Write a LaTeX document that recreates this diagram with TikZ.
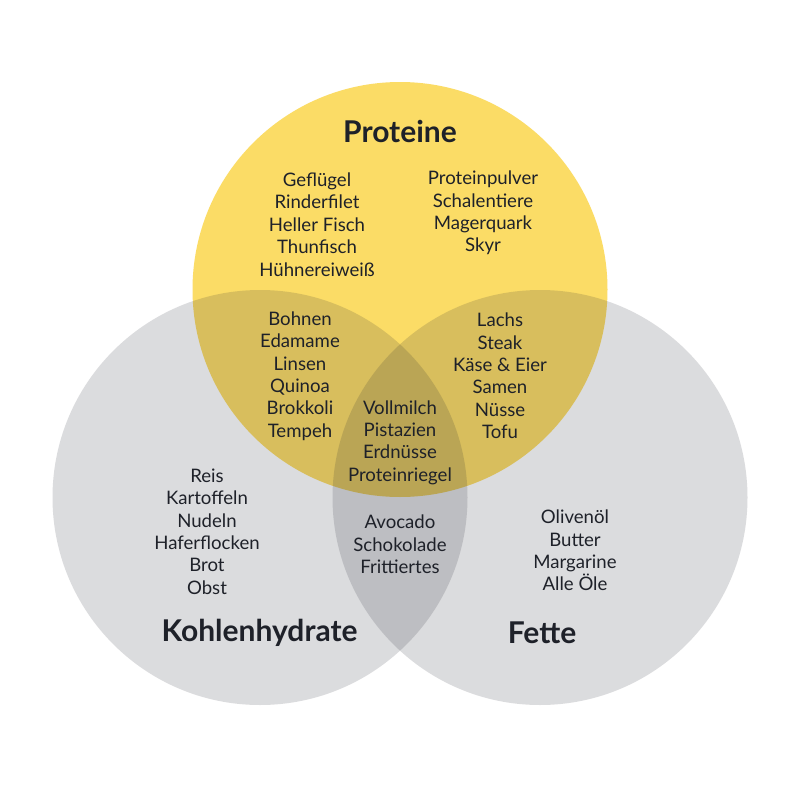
\documentclass[tikz,border=0pt]{standalone}
\usepackage{fontspec}
\setmainfont{Lato}
\usetikzlibrary{positioning}
\definecolor{protgelb}{RGB}{251,220,102}
\definecolor{kreisgrau}{RGB}{30,34,45}
\definecolor{schrift}{RGB}{30,33,41}

\begin{document}
\begin{tikzpicture}[x=1pt,y=-1pt,
  kreis/.style={fill=kreisgrau,fill opacity=0.155},
  liste/.style={align=center,text=schrift,inner sep=0pt,font=\fontsize{18.6}{22.4}\selectfont},
  titel/.style={text=schrift,inner sep=0pt,font=\fontsize{30}{34}\selectfont\bfseries}]
\useasboundingbox (0,0) rectangle (800,800);
\fill[white] (0,0) rectangle (800,800);
\coordinate (p) at (400,289.5);\coordinate (k) at (260,497.5);\coordinate (f) at (540,497.5);
% drei Kreise
\fill[protgelb] (p) circle[radius=207.5pt];
\fill[kreis] (k) circle[radius=207.5pt];
\fill[kreis] (f) circle[radius=207.5pt];
% Titel
\node[titel] (protTitel) at (400,131) {Proteine};
\node[titel] (khTitel) at (259.5,633) {Kohlenhydrate};
\node[titel] (fettTitel) at (542,633) {Fette};
% Lebensmittel
\node[liste] (protA) at (317,224.5) {Geflügel\\Rinderfilet\\Heller Fisch\\Thunfisch\\Hühnereiweiß};
\node[liste] (protB) at (483,213) {Proteinpulver\\Schalentiere\\Magerquark\\Skyr};
\node[liste] (protKh) at (300,376) {Bohnen\\Edamame\\Linsen\\Quinoa\\Brokkoli\\Tempeh};
\node[liste] (protFett) at (500,376) {Lachs\\Steak\\Käse \& Eier\\Samen\\Nüsse\\Tofu};
\node[liste] (alle) at (400,442.5) {Vollmilch\\Pistazien\\Erdnüsse\\Proteinriegel};
\node[liste] (khFett) at (400,544.5) {Avocado\\Schokolade\\Frittiertes};
\node[liste] (kh) at (207,531.5) {Reis\\Kartoffeln\\Nudeln\\Haferflocken\\Brot\\Obst};
\node[liste] (fett) at (575,550.5) {Olivenöl\\Butter\\Margarine\\Alle Öle};
\end{tikzpicture}
\end{document}
